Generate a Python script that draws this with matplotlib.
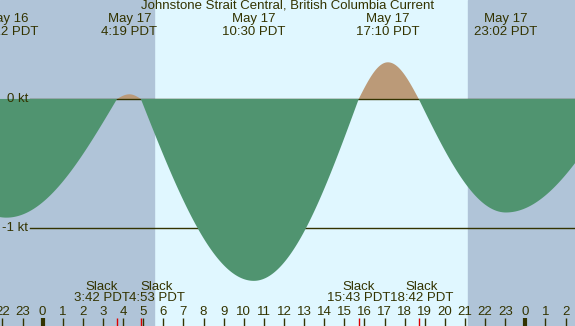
import numpy as np
import matplotlib
matplotlib.use("Agg")
from matplotlib import pyplot as plt

plt.rcParams['font.family'] = ['Liberation Sans', 'DejaVu Sans']

# current events, hours from May 17 00:00 PDT
ev_hours = [-7.0, -1.8, 3.70, 4.317, 4.883, 10.5, 15.717, 17.167, 18.7, 23.033, 28.6]
ev_speed = [0.0, -0.92, 0.0, 0.036, 0.0, -1.41, 0.0, 0.284, 0.0, -0.88, 0.0]

max_hours = [-1.8, 4.317, 10.5, 17.167, 23.033]
max_dates = ["May 16", "May 17", "May 17", "May 17", "May 17"]
max_labels = ["22:12 PDT", "4:19 PDT", "10:30 PDT", "17:10 PDT", "23:02 PDT"]

slack_hours = [3.70, 4.883, 15.717, 18.7]
slack_labels = ["3:42 PDT", "4:53 PDT", "15:43 PDT", "18:42 PDT"]
slack_shift = [-0.77, 0.8, 0.0, 0.16]  # push labels apart

sunrise = 5.53
sunset = 21.15
title = "Johnstone Strait Central, British Columbia Current"

night = "#b0c4d8"
day = "#e0f7ff"
ebb = "#509470"
flood = "#bb9a78"
ink = "#333300"

x0, x1 = -2.12, 26.47
y0, y1 = -1.76, 0.767

# quarter-sine interpolation between slack and max
t = np.linspace(x0, x1, 4000)
v = np.zeros_like(t)
for i in range(len(ev_hours) - 1):
    a, b = ev_hours[i], ev_hours[i + 1]
    va, vb = ev_speed[i], ev_speed[i + 1]
    m = (t >= a) & (t <= b)
    f = (t[m] - a) / (b - a)
    if va == 0:
        v[m] = vb * np.sin(np.pi / 2 * f)
    else:
        v[m] = va * np.cos(np.pi / 2 * f)

fig = plt.figure(figsize=(5.75, 3.26), dpi=100)
ax = fig.add_axes([0, 0, 1, 1])
ax.set_xlim(x0, x1)
ax.set_ylim(y0, y1)
ax.axis("off")

ax.axvspan(x0, x1, color=day, zorder=0)
ax.axvspan(x0, sunrise, color=night, zorder=0)
ax.axvspan(sunset, x1, color=night, zorder=0)

ax.fill_between(t, 0, v, where=v >= 0, interpolate=True, color=flood, lw=0, zorder=1)
ax.axhline(0, xmin=0.052, color=ink, lw=1, zorder=2)
ax.axhline(-1, xmin=0.052, color=ink, lw=1, zorder=2)
ax.fill_between(t, 0, v, where=v <= 0, interpolate=True, color=ebb, lw=0, zorder=3)

fs = 9.5
ax.text(0.049, 0, "0 kt", ha="right", va="center", color=ink, fontsize=fs,
        transform=ax.get_yaxis_transform(), zorder=5)
ax.text(0.049, -1, "-1 kt", ha="right", va="center", color=ink, fontsize=fs,
        transform=ax.get_yaxis_transform(), zorder=5)

tr = ax.get_xaxis_transform()
ax.text(0.5, 0.982, title, ha="center", va="center", color=ink, fontsize=fs,
        transform=ax.transAxes, zorder=5)
for h, d, lab in zip(max_hours, max_dates, max_labels):
    ax.text(h, 0.942, d, ha="center", va="center", color=ink, fontsize=fs, transform=tr, zorder=5)
    ax.text(h, 0.903, lab, ha="center", va="center", color=ink, fontsize=fs, transform=tr, zorder=5)

for h, lab, s in zip(slack_hours, slack_labels, slack_shift):
    ax.text(h + s, 0.12, "Slack", ha="center", va="center", color=ink, fontsize=fs, transform=tr, zorder=5)
    ax.text(h + s, 0.085, lab, ha="center", va="center", color=ink, fontsize=fs, transform=tr, zorder=5)
    ax.vlines(h, 0, 0.0245, color="#dd0000", lw=1, transform=tr, zorder=4)

for hr in range(-2, 27):
    lw = 3 if hr % 24 == 0 else 1
    ax.vlines(hr, 0, 0.0245, color=ink, lw=lw, transform=tr, zorder=4)
    ax.text(hr, 0.044, str(hr % 24), ha="center", va="center", color=ink, fontsize=fs,
            transform=tr, zorder=5)

fig.savefig("out.png", dpi=100)
